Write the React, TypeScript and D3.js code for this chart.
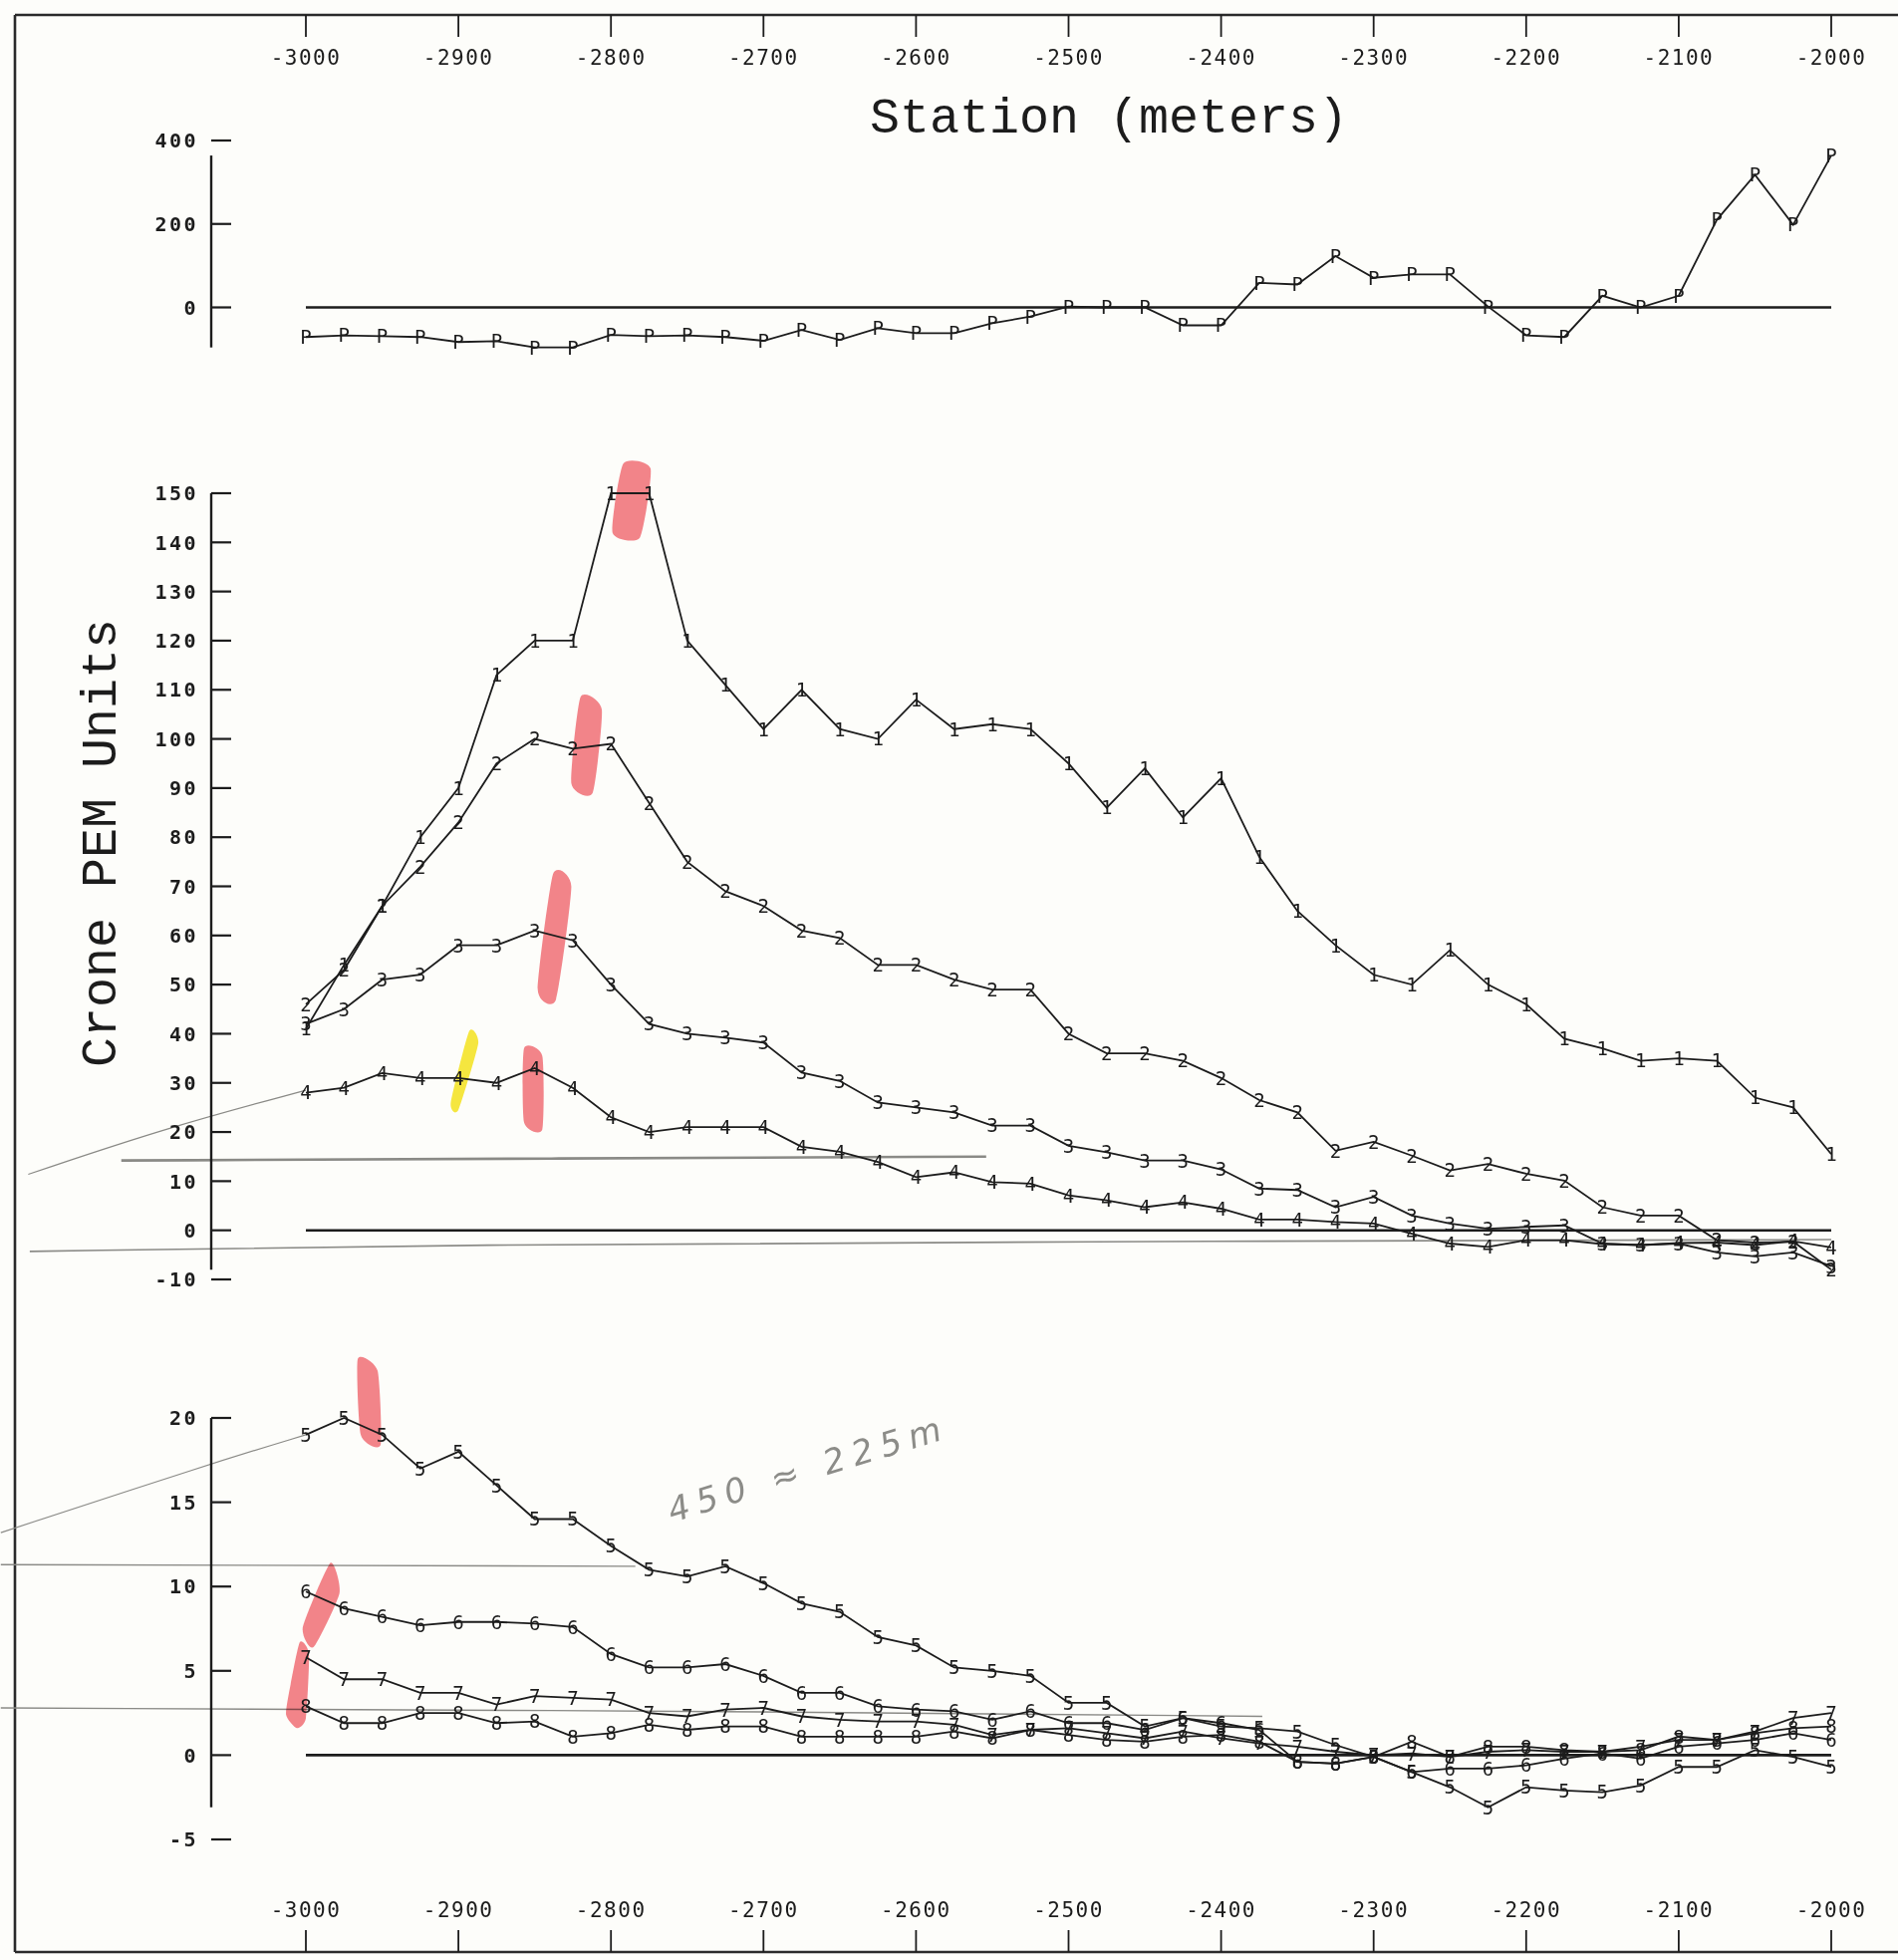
import React from "react";
import * as d3 from "d3";

// Stations (meters)
const stations = [
  -3000, -2975, -2950, -2925, -2900, -2875, -2850, -2825, -2800, -2775, -2750,
  -2725, -2700, -2675, -2650, -2625, -2600, -2575, -2550, -2525, -2500, -2475,
  -2450, -2425, -2400, -2375, -2350, -2325, -2300, -2275, -2250, -2225, -2200,
  -2175, -2150, -2125, -2100, -2075, -2050, -2025, -2000,
];

const xTicks = [-3000, -2900, -2800, -2700, -2600, -2500, -2400, -2300, -2200, -2100, -2000];
const topTicks = [0, 200, 400];
const midTicks = [-10, 0, 10, 20, 30, 40, 50, 60, 70, 80, 90, 100, 110, 120, 130, 140, 150];
const botTicks = [-5, 0, 5, 10, 15, 20];

// Primary field (P)
const seriesP = [-71, -67, -69, -71, -83, -81, -96, -96, -66, -69, -67, -71, -80, -54, -78, -50, -62, -62, -38, -22,
  2, 0, 0, -43, -43, 59, 55, 123, 71, 79, 79, 2, -67, -71, 28, 0, 28, 210, 318, 198, 364];

// Channels 1-4
const series1 = [41, 54, 66, 80, 90, 113, 120, 120, 150, 150, 120, 111, 102, 110, 102, 100, 108, 102, 103, 102,
  95, 86, 94, 84, 92, 76, 65, 58, 52, 50, 57, 50, 46, 39, 37, 34.5, 35, 34.5, 27, 25, 15.5];
const series2 = [46, 53, 66, 74, 83, 95, 100, 98, 99, 87, 75, 69, 66, 61, 59.5, 54, 54, 51, 49, 49,
  40, 36, 36, 34.5, 31, 26.5, 24, 16.2, 18, 15.2, 12.2, 13.5, 11.5, 10.1, 4.7, 3, 3, -2, -2.5, -2.3, -8];
const series3 = [42, 45, 51, 52, 58, 58, 61, 59, 50, 42, 40, 39.2, 38.2, 32.1, 30.4, 26, 25, 24, 21.3, 21.3,
  17.2, 15.9, 14.2, 14.2, 12.4, 8.5, 8.2, 4.7, 6.8, 3, 1.4, 0.3, 0.7, 1, -2.7, -3, -2.7, -4.5, -5.3, -4.5, -7.3];
const series4 = [28, 29, 32, 31, 31, 30, 33, 29, 23, 20, 21, 21, 21, 17, 16, 13.9, 10.8, 11.8, 9.8, 9.5,
  7.1, 6.1, 4.7, 5.7, 4.4, 2.2, 2.2, 1.7, 1.4, -0.7, -2.7, -3.4, -2, -2, -2.8, -3, -2.6, -2.5, -3, -2.2, -3.5];

// Channels 5-8
const series5 = [19, 20, 19, 17, 18, 16, 14, 14, 12.4, 11, 10.6, 11.2, 10.2, 9, 8.5, 7, 6.5, 5.2, 5, 4.7,
  3.1, 3.1, 1.7, 2.2, 1.7, 1.6, 1.4, 0.6, -0.1, -1, -1.9, -3.1, -1.9, -2.1, -2.2, -1.8, -0.7, -0.7, 0.3, -0.1, -0.7];
const series6 = [9.7, 8.7, 8.2, 7.7, 7.9, 7.9, 7.8, 7.6, 6, 5.2, 5.2, 5.4, 4.7, 3.7, 3.7, 2.9, 2.7, 2.6, 2.1, 2.6,
  1.9, 1.9, 1.5, 2.2, 1.9, 1.5, -0.4, -0.5, -0.1, -1.0, -0.8, -0.8, -0.6, -0.2, 0.1, -0.2, 0.5, 0.7, 0.9, 1.3, 0.9];
const series7 = [5.8, 4.5, 4.5, 3.7, 3.7, 3, 3.5, 3.4, 3.3, 2.5, 2.3, 2.7, 2.8, 2.3, 2.1, 2, 2, 1.8, 1.2, 1.5,
  1.6, 1.3, 1, 1.4, 1, 0.7, 0.5, 0.2, 0, 0.1, -0.1, 0.2, 0.3, 0.2, 0.2, 0.5, 0.9, 0.9, 1.4, 2.2, 2.5];
const series8 = [2.9, 1.9, 1.9, 2.5, 2.5, 1.9, 2, 1.1, 1.3, 1.8, 1.5, 1.7, 1.7, 1.1, 1.1, 1.1, 1.1, 1.4, 1, 1.5,
  1.2, 0.9, 0.8, 1.1, 1.2, 0.8, -0.4, -0.5, -0.1, 0.8, -0.1, 0.5, 0.5, 0.3, 0.2, 0.3, 1.1, 0.9, 1.3, 1.6, 1.7];

// Hand annotations on the scan, in data coordinates [station, value]
const highlights = [
  { panel: "mid", color: "#f26f78", pts: [[-2792, 156], [-2774, 155], [-2781, 141], [-2799, 142]] },
  { panel: "mid", color: "#f26f78", pts: [[-2820, 108.5], [-2806, 106], [-2812, 89], [-2826, 91]] },
  { panel: "mid", color: "#f26f78", pts: [[-2838, 72.5], [-2826, 70], [-2836, 47], [-2848, 49]] },
  { panel: "mid", color: "#f6e41e", pts: [[-2893, 40.5], [-2887, 38], [-2900, 24.5], [-2905, 26]] },
  { panel: "mid", color: "#f26f78", pts: [[-2857, 37], [-2845, 35.5], [-2845, 20.5], [-2857, 22]] },
  { panel: "bot", color: "#f26f78", pts: [[-2966, 23.5], [-2953, 22.8], [-2951, 18.4], [-2964, 19]] },
  { panel: "bot", color: "#f26f78", pts: [[-2984, 11.4], [-2978, 9.6], [-2995, 6.4], [-3002, 7.6]] },
  { panel: "bot", color: "#f26f78", pts: [[-3004, 6.7], [-2998, 6], [-3000, 2.2], [-3006, 1.6], [-3013, 2.4], [-3010, 4.2]] },
];

const pencilLines = [
  { panel: "mid", width: 1.2, pts: [[-3182, 11.4], [-3090, 21], [-3000, 28.5]] },
  { panel: "mid", width: 2.6, pts: [[-3121, 14.2], [-2840, 14.6], [-2554, 15]] },
  { panel: "mid", width: 1.6, pts: [[-3181, -4.3], [-2900, -2.9], [-2500, -2.3], [-2000, -1.9]] },
  { panel: "bot", width: 1.2, pts: [[-3200, 13.2], [-3062, 17.3], [-3000, 19]] },
  { panel: "bot", width: 1.4, pts: [[-3200, 11.3], [-2784, 11.2]] },
  { panel: "bot", width: 1.4, pts: [[-3200, 2.8], [-2700, 2.6], [-2373, 2.3]] },
];

const note = { panel: "bot", station: -2760, value: 13.8, text: "450 \u2248 225m" };

const W = 1905;
const H = 1967;
const AXIS_X = 212;
const INK = "#1c1c1c";
const MONO = "'DejaVu Sans Mono', 'Liberation Mono', monospace";
const TITLE = "'Liberation Mono', 'DejaVu Sans Mono', monospace";

export default function App() {
  const x = d3.scaleLinear().domain([-3000, -2000]).range([307, 1838]);
  const yTop = d3.scaleLinear().domain([0, 400]).range([308.5, 141]);
  const yMid = d3.scaleLinear().domain([-10, 150]).range([1284, 495]);
  const yBot = d3.scaleLinear().domain([-5, 20]).range([1846, 1423]);
  const scales: Record<string, d3.ScaleLinear<number, number>> = { top: yTop, mid: yMid, bot: yBot };

  const panels = [
    { key: "top", y: yTop, ticks: topTicks, series: [{ label: "P", values: seriesP }] },
    {
      key: "mid", y: yMid, ticks: midTicks,
      series: [
        { label: "4", values: series4 }, { label: "3", values: series3 },
        { label: "2", values: series2 }, { label: "1", values: series1 },
      ],
    },
    {
      key: "bot", y: yBot, ticks: botTicks,
      series: [
        { label: "8", values: series8 }, { label: "7", values: series7 },
        { label: "6", values: series6 }, { label: "5", values: series5 },
      ],
    },
  ];

  const blob = (pts: number[][], y: d3.ScaleLinear<number, number>) =>
    d3.line<number[]>().x((d) => x(d[0])).y((d) => y(d[1])).curve(d3.curveCardinalClosed.tension(0.4))(pts) || "";
  const pencil = (pts: number[][], y: d3.ScaleLinear<number, number>) =>
    d3.line<number[]>().x((d) => x(d[0])).y((d) => y(d[1])).curve(d3.curveBasis)(pts) || "";

  return (
    <svg width={W} height={H} style={{ position: "absolute", left: 0, top: 0, background: "#fdfdfa" }}>
      <rect x={0} y={0} width={W} height={H} fill="#fdfdfa" />
      {/* frame */}
      <line x1={15} y1={15} x2={W} y2={15} stroke="#2a2a2a" strokeWidth={2.6} />
      <line x1={15} y1={15} x2={15} y2={1959} stroke="#2a2a2a" strokeWidth={2.6} />
      <line x1={15} y1={1959} x2={W} y2={1959} stroke="#2a2a2a" strokeWidth={2.6} />

      {/* x axes ticks and labels, top and bottom */}
      {xTicks.map((t) => (
        <g key={"xt" + t}>
          <line x1={x(t)} x2={x(t)} y1={15} y2={37} stroke={INK} strokeWidth={1.8} />
          <text x={x(t)} y={65} textAnchor="middle" fontFamily={MONO} fontSize={21} letterSpacing={1.5} fill={INK}>
            {t}
          </text>
          <line x1={x(t)} x2={x(t)} y1={1937} y2={1959} stroke={INK} strokeWidth={1.8} />
          <text x={x(t)} y={1924} textAnchor="middle" fontFamily={MONO} fontSize={21} letterSpacing={1.5} fill={INK}>
            {t}
          </text>
        </g>
      ))}

      <text x={1113} y={133} textAnchor="middle" fontFamily={TITLE} fontSize={50} fill={INK}>
        Station (meters)
      </text>
      <text transform="translate(116,846) rotate(-90)" textAnchor="middle" fontFamily={TITLE} fontSize={50} fill={INK}>
        Crone PEM Units
      </text>

      {/* pencil lines */}
      {pencilLines.map((p, i) => (
        <path key={"pl" + i} d={pencil(p.pts, scales[p.panel])} fill="none" stroke="#8a8a86" strokeWidth={p.width} />
      ))}

      {/* highlighter strokes */}
      {highlights.map((h, i) => (
        <path key={"hl" + i} d={blob(h.pts, scales[h.panel])} fill={h.color} opacity={0.85} style={{ mixBlendMode: "multiply" }} />
      ))}

      {panels.map((p) => {
        const all = p.series.flatMap((s) => s.values);
        const [mn, mx] = d3.extent(all) as [number, number];
        const line = d3.line<number>().x((_, i) => x(stations[i])).y((d) => p.y(d));
        return (
          <g key={p.key}>
            {/* y axis */}
            <line x1={AXIS_X} x2={AXIS_X} y1={p.y(mx)} y2={p.y(mn)} stroke={INK} strokeWidth={2.4} />
            {p.ticks.map((t) => (
              <g key={p.key + "t" + t}>
                <line x1={AXIS_X} x2={AXIS_X + 20} y1={p.y(t)} y2={p.y(t)} stroke={INK} strokeWidth={2.2} />
                <text x={199} y={p.y(t)} dy="0.36em" textAnchor="end" fontFamily={MONO} fontWeight="bold"
                  fontSize={20} letterSpacing={2.5} fill={INK}>
                  {t}
                </text>
              </g>
            ))}
            {/* zero line */}
            <line x1={x(-3000)} x2={x(-2000)} y1={p.y(0)} y2={p.y(0)} stroke={INK} strokeWidth={2.6} />
            {p.series.map((s) => (
              <g key={p.key + s.label}>
                <path d={line(s.values) || ""} fill="none" stroke={INK} strokeWidth={1.8} />
                {s.values.map((v, i) => (
                  <text key={i} x={x(stations[i])} y={p.y(v)} dy="0.36em" textAnchor="middle"
                    fontFamily={MONO} fontSize={19} fill={INK}>
                    {s.label}
                  </text>
                ))}
              </g>
            ))}
          </g>
        );
      })}

      {/* handwritten note */}
      <text transform={`translate(${x(note.station)},${scales[note.panel](note.value)}) rotate(-17)`}
        fontFamily="'DejaVu Sans', sans-serif" fontStyle="italic" fontWeight={300} fontSize={34}
        fill="#8c8c88" textLength={285}>
        {note.text}
      </text>
    </svg>
  );
}
